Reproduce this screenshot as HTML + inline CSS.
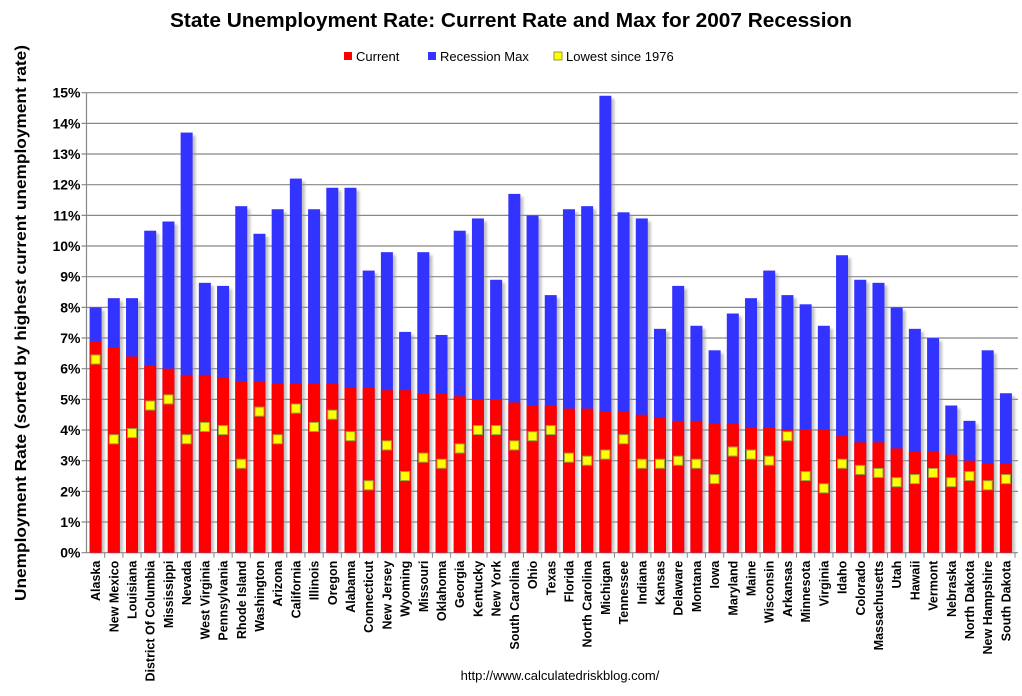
<!DOCTYPE html>
<html><head><meta charset="utf-8"><style>
body{margin:0;background:#fff;font-family:"Liberation Sans",sans-serif;}
svg text{font-family:"Liberation Sans",sans-serif;}
</style></head><body>
<svg id="chart" width="1022" height="691" xmlns="http://www.w3.org/2000/svg">
<defs><filter id="sh" x="-20%" y="-5%" width="160%" height="120%"><feGaussianBlur stdDeviation="1.2"/></filter></defs>
<text x="511" y="27" text-anchor="middle" font-size="20" font-weight="bold" textLength="682" lengthAdjust="spacingAndGlyphs">State Unemployment Rate: Current Rate and Max for 2007 Recession</text>
<g font-size="13">
<rect x="344" y="52" width="8" height="8" fill="#ff0000"/><text x="356" y="61">Current</text>
<rect x="428" y="52" width="8" height="8" fill="#3333ff"/><text x="440" y="61">Recession Max</text>
<rect x="554" y="52" width="8" height="8" fill="#ffff00" stroke="#999933"/><text x="566" y="61">Lowest since 1976</text>
</g>
<text transform="translate(26,323) rotate(-90)" text-anchor="middle" font-size="16" font-weight="bold" textLength="556" lengthAdjust="spacingAndGlyphs">Unemployment Rate (sorted by highest current unemployment rate)</text>
<text x="560" y="680" text-anchor="middle" font-size="13">http://www.calculatedriskblog.com/</text>
<g id="grid"></g><g id="bars"></g><g id="xlabels"></g>
</svg>
<script>
const states=["Alaska","New Mexico","Louisiana","District Of Columbia","Mississippi","Nevada","West Virginia","Pennsylvania","Rhode Island","Washington","Arizona","California","Illinois","Oregon","Alabama","Connecticut","New Jersey","Wyoming","Missouri","Oklahoma","Georgia","Kentucky","New York","South Carolina","Ohio","Texas","Florida","North Carolina","Michigan","Tennessee","Indiana","Kansas","Delaware","Montana","Iowa","Maryland","Maine","Wisconsin","Arkansas","Minnesota","Virginia","Idaho","Colorado","Massachusetts","Utah","Hawaii","Vermont","Nebraska","North Dakota","New Hampshire","South Dakota"];
const currentRate=[6.9,6.7,6.4,6.1,6.0,5.8,5.8,5.7,5.6,5.6,5.5,5.5,5.5,5.5,5.4,5.4,5.3,5.3,5.2,5.2,5.1,5.0,5.0,4.9,4.8,4.8,4.7,4.7,4.6,4.6,4.5,4.4,4.3,4.3,4.2,4.2,4.1,4.1,4.0,4.0,4.0,3.8,3.6,3.6,3.4,3.3,3.3,3.2,3.0,2.9,2.9];
const recessionMax=[8.0,8.3,8.3,10.5,10.8,13.7,8.8,8.7,11.3,10.4,11.2,12.2,11.2,11.9,11.9,9.2,9.8,7.2,9.8,7.1,10.5,10.9,8.9,11.7,11.0,8.4,11.2,11.3,14.9,11.1,10.9,7.3,8.7,7.4,6.6,7.8,8.3,9.2,8.4,8.1,7.4,9.7,8.9,8.8,8.0,7.3,7.0,4.8,4.3,6.6,5.2];
const lowestSince1976=[6.3,3.7,3.9,4.8,5.0,3.7,4.1,4.0,2.9,4.6,3.7,4.7,4.1,4.5,3.8,2.2,3.5,2.5,3.1,2.9,3.4,4.0,4.0,3.5,3.8,4.0,3.1,3.0,3.2,3.7,2.9,2.9,3.0,2.9,2.4,3.3,3.2,3.0,3.8,2.5,2.1,2.9,2.7,2.6,2.3,2.4,2.6,2.3,2.5,2.2,2.4];
const yTicks=[0,1,2,3,4,5,6,7,8,9,10,11,12,13,14,15];
const NS="http://www.w3.org/2000/svg";
const L=86.5,R=1015,T=92.7,B=552.7,YMAX=15;
const slot=(R-L)/states.length, bw=12;
function y(v){return B-(v/YMAX)*(B-T);}
function x(i){return L+slot*i+slot/2;}
function mk(tag,attrs,parent){const e=document.createElementNS(NS,tag);for(const k in attrs)e.setAttribute(k,attrs[k]);parent.appendChild(e);return e;}
const grid=document.getElementById('grid'),bars=document.getElementById('bars'),xl=document.getElementById('xlabels');
yTicks.forEach(t=>{
  const g=mk('line',{x1:L-5,x2:R+3,y1:y(t),y2:y(t),stroke:'#888','stroke-width':1.2},grid);
  
  
  const tx=mk('text',{x:L-6,y:y(t)+5,'text-anchor':'end','font-size':14,'font-weight':'bold'},grid);
  tx.textContent=t+'%';
  
  
});
mk('line',{x1:L,x2:L,y1:T,y2:B,stroke:'#888','stroke-width':1.2},grid);
states.forEach((s,i)=>{
  const cx=x(i),x0=cx-bw/2;
  mk('rect',{x:x0+3,y:y(recessionMax[i])+3,width:bw,height:B-y(recessionMax[i])-3,fill:'#999',opacity:0.6,filter:'url(#sh)'},bars);
  const mb=mk('rect',{x:x0,y:y(recessionMax[i]),width:bw,height:B-y(recessionMax[i]),fill:'#3333ff'},bars);
  
  
  const cb=mk('rect',{x:x0,y:y(currentRate[i]),width:bw,height:B-y(currentRate[i]),fill:'#ff0000'},bars);
  
  
  const m=mk('rect',{x:cx-4.5,y:y(lowestSince1976[i])-4.5,width:9,height:9,fill:'#ffff00',stroke:'#99aa33','stroke-width':1},bars);
  
  
  mk('line',{x1:L+slot*(i+1),x2:L+slot*(i+1),y1:B,y2:B+5,stroke:'#888'},grid);
  const t=mk('text',{transform:`translate(${cx+4.5},${B+8}) rotate(-90)`,'text-anchor':'end','font-size':12.5,'font-weight':'bold'},xl);
  t.textContent=s;
  
  
});
</script>
</body></html>
